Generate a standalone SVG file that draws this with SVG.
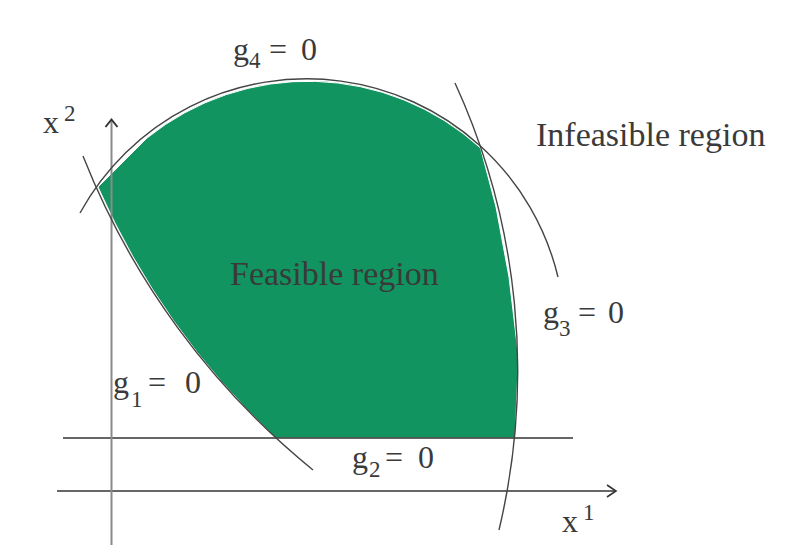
<svg xmlns="http://www.w3.org/2000/svg" width="793" height="558" viewBox="0 0 793 558">
<style>
.t{font-family:"Liberation Serif","Times New Roman",serif;fill:#3a3a3a;font-size:32px}
.s{font-size:23px}
.big{font-size:34px}
.c{fill:none;stroke:#444;stroke-width:1.4}
.ax{fill:none;stroke:#333;stroke-width:1.6}
</style>
<rect width="793" height="558" fill="#fff"/>
<g id="feasible-region">
<path d="M98,187 L147,138 A256.5,256.5 0 0,1 480.5,148 L496,207 L509,277 L518.5,357 L515,438 L276,438 A767.8,767.8 0 0,1 98,187 Z" fill="#11945f" stroke="#fff" stroke-width="1"/>
<text class="t big" x="230" y="285" fill="#333">Feasible region</text>
</g>
<g id="connectors">
<line class="ax" x1="63" y1="438" x2="573" y2="438"/>
<line class="ax" x1="57" y1="491" x2="615" y2="491"/>
<polyline class="ax" points="607,485 616,491 607,497" stroke-width="2"/>
<line x1="111.5" y1="545" x2="111.5" y2="120" stroke="#8a8a8a" stroke-width="2"/>
<polyline points="105.5,127 111.5,119.5 117.5,127" fill="none" stroke="#333" stroke-width="2"/>
<path id="g1" class="c" d="M83,156 A767.8,767.8 0 0,0 313,470"/>
<path id="g3" class="c" d="M455,83 A690.4,690.4 0 0,1 499,530"/>
<path id="g4" class="c" d="M80,213 A258.5,258.5 0 0,1 558,277"/>
</g>
<g id="label-g4"><text class="t" x="233" y="60">g</text><text class="t s" x="249" y="68">4</text><text class="t" x="269" y="60">=</text><text class="t" x="301" y="60">0</text></g>
<g id="label-x2"><text class="t" x="43" y="133" font-size="34">x</text><text class="t s" x="64" y="121">2</text></g>
<g id="label-infeasible"><text class="t big" x="536" y="146">Infeasible region</text></g>
<g id="label-g3"><text class="t" x="543" y="323">g</text><text class="t s" x="559" y="336">3</text><text class="t" x="578" y="323">=</text><text class="t" x="608" y="323">0</text></g>
<g id="label-g1"><text class="t" x="113" y="393">g</text><text class="t s" x="131" y="407">1</text><text class="t" x="148" y="393">=</text><text class="t" x="185" y="393">0</text></g>
<g id="label-g2"><text class="t" x="352" y="468">g</text><text class="t s" x="369" y="477">2</text><text class="t" x="385" y="468">=</text><text class="t" x="418" y="468">0</text></g>
<g id="label-x1"><text class="t" x="562" y="532" font-size="34">x</text><text class="t s" x="583" y="520">1</text></g>
</svg>
